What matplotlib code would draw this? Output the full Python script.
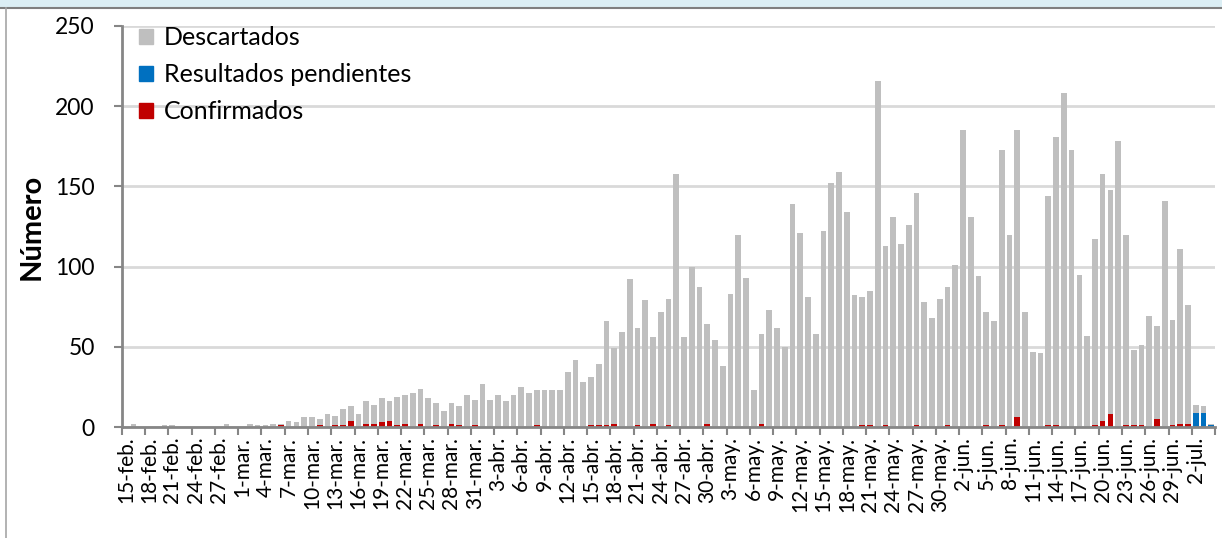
import numpy as np
import matplotlib.pyplot as plt
from matplotlib.patches import Patch, Rectangle
from matplotlib.lines import Line2D

# daily values, 15-feb to 4-jul
descartados = [
    0, 2, 0, 0, 0, 1, 1, 0, 0, 0,
    0, 0, 0, 2, 0, 0, 2, 1, 1, 2,
    1, 4, 3, 6, 6, 4, 8, 6, 10, 9,
    8, 14, 12, 15, 12, 18, 18, 21, 22, 18,
    14, 10, 13, 12, 20, 16, 27, 17, 20, 16,
    20, 25, 21, 22, 23, 23, 23, 34, 42, 28,
    30, 38, 65, 47, 59, 92, 61, 79, 54, 72,
    79, 158, 56, 100, 87, 62, 54, 38, 83, 120,
    93, 23, 56, 73, 62, 50, 139, 121, 81, 58,
    122, 152, 159, 134, 82, 80, 84, 216, 112, 131,
    114, 126, 145, 78, 68, 80, 86, 101, 185, 131,
    94, 71, 66, 172, 120, 179, 72, 47, 46, 143,
    180, 208, 173, 95, 57, 116, 154, 140, 178, 119,
    47, 50, 69, 58, 141, 66, 109, 74, 5, 4,
    1,
]
confirmados = [
    0, 0, 0, 0, 0, 0, 0, 0, 0, 0,
    0, 0, 0, 0, 0, 0, 0, 0, 0, 0,
    1, 0, 0, 0, 0, 1, 0, 1, 1, 4,
    0, 2, 2, 3, 4, 1, 2, 0, 2, 0,
    1, 0, 2, 1, 0, 1, 0, 0, 0, 0,
    0, 0, 0, 1, 0, 0, 0, 0, 0, 0,
    1, 1, 1, 2, 0, 0, 1, 0, 2, 0,
    1, 0, 0, 0, 0, 2, 0, 0, 0, 0,
    0, 0, 2, 0, 0, 0, 0, 0, 0, 0,
    0, 0, 0, 0, 0, 1, 1, 0, 1, 0,
    0, 0, 1, 0, 0, 0, 1, 0, 0, 0,
    0, 1, 0, 1, 0, 6, 0, 0, 0, 1,
    1, 0, 0, 0, 0, 1, 4, 8, 0, 1,
    1, 1, 0, 5, 0, 1, 2, 2, 0, 0,
    0,
]
pendientes = [0] * 138 + [9, 9, 1]

tick_labels = ['15-feb.', '18-feb.', '21-feb.', '24-feb.', '27-feb.', '1-mar.', '4-mar.',
               '7-mar.', '10-mar.', '13-mar.', '16-mar.', '19-mar.', '22-mar.', '25-mar.',
               '28-mar.', '31-mar.', '3-abr.', '6-abr.', '9-abr.', '12-abr.', '15-abr.',
               '18-abr.', '21-abr.', '24-abr.', '27-abr.', '30-abr.', '3-may.', '6-may.',
               '9-may.', '12-may.', '15-may.', '18-may.', '21-may.', '24-may.', '27-may.',
               '30-may.', '2-jun.', '5-jun.', '8-jun.', '11-jun.', '14-jun.', '17-jun.',
               '20-jun.', '23-jun.', '26-jun.', '29-jun.', '2-jul.']

plt.rcParams['font.family'] = ['Lato', 'DejaVu Sans']

grey = '#bfbfbf'
blue = '#0070c0'
red = '#c00000'
axis_col = '#868686'

d = np.array(descartados)
c = np.array(confirmados)
p = np.array(pendientes)
x = np.arange(len(d))

fig = plt.figure(figsize=(12.22, 5.38), dpi=100)
ax = fig.add_axes([0.0998, 0.2063, 0.8945, 0.7454])

w = 0.74
ax.bar(x, c, width=w, color=red, zorder=3)
ax.bar(x, p, width=w, bottom=c, color=blue, zorder=3)
ax.bar(x, d, width=w, bottom=c + p, color=grey, zorder=3)

ax.set_xlim(-0.5, len(d) - 0.5)
ax.set_ylim(0, 250)
ax.set_yticks(range(0, 251, 50))
ax.grid(axis='y', color='#d9d9d9', linewidth=2, zorder=0)

# labels on bar centres, tick marks on every third boundary
ax.set_xticks(np.arange(0, len(d), 3))
ax.set_xticklabels(tick_labels, rotation=90, fontsize=15)
ax.set_xticks(np.arange(-0.5, len(d), 3), minor=True)
ax.tick_params(axis='x', which='major', length=0, pad=7)
ax.tick_params(axis='x', which='minor', length=6, width=1.5, color=axis_col)
ax.tick_params(axis='y', length=6, width=1.5, color=axis_col, labelsize=16.5, pad=13.5)

for s in ['top', 'right']:
    ax.spines[s].set_visible(False)
for s in ['left', 'bottom']:
    ax.spines[s].set_color(axis_col)
    ax.spines[s].set_linewidth(2)
    ax.spines[s].set_zorder(4)

ax.set_ylabel('Número', fontsize=21, fontweight='bold', labelpad=8)

handles = [Patch(color=grey), Patch(color=blue), Patch(color=red)]
ax.legend(handles, ['Descartados', 'Resultados pendientes', 'Confirmados'],
          loc='upper left', bbox_to_anchor=(0.0065, 1.025), frameon=False,
          fontsize=18, handlelength=0.55, handleheight=0.55, handletextpad=0.45,
          labelspacing=0.57, borderaxespad=0)

# chart frame: light band on top, grey border
fig.patches.append(Rectangle((0, 1 - 7 / 538), 1, 7 / 538, transform=fig.transFigure,
                             color='#dbeef4', zorder=0))
fig.lines.append(Line2D([0, 1], [1 - 8 / 538, 1 - 8 / 538], transform=fig.transFigure,
                        color='#7f7f7f', linewidth=1.5))
fig.lines.append(Line2D([6 / 1222, 6 / 1222], [0, 1 - 8 / 538], transform=fig.transFigure,
                        color='#a6a6a6', linewidth=1.2))

fig.savefig('out.png', dpi=100)
